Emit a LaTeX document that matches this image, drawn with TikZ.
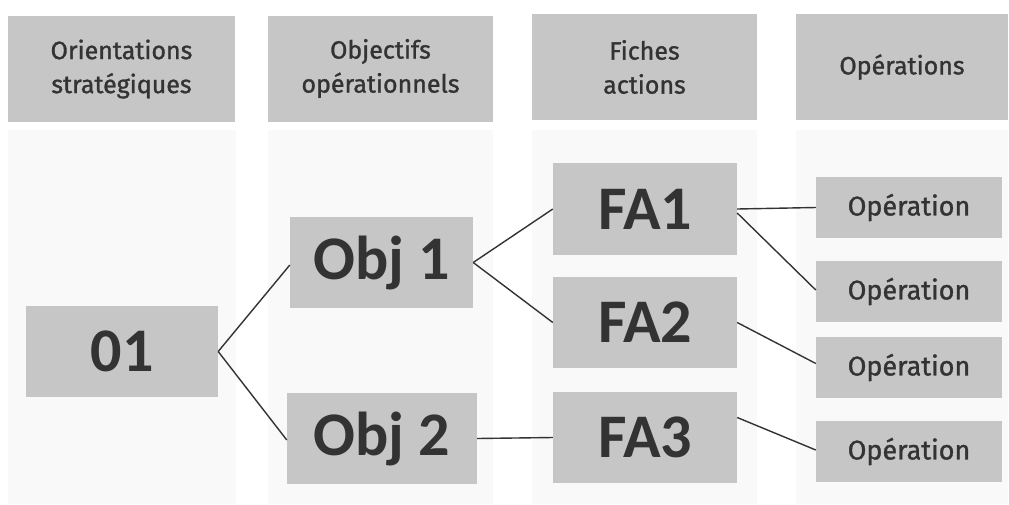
\documentclass[tikz,border=0pt]{standalone}
\usepackage{fontspec}
\setmainfont{Fira Sans}[UprightFeatures={FakeBold=1.2}]
\newfontfamily\boldfont{Carlito}
\definecolor{boxgray}{HTML}{C6C6C6}
\definecolor{panelgray}{HTML}{F9F9F9}
\definecolor{inkgray}{HTML}{333333}
\definecolor{linegray}{HTML}{333333}
\begin{document}
\begin{tikzpicture}[x=1pt,y=-1pt,
  header/.style={fill=boxgray,draw=none,text=inkgray,align=center,inner sep=0pt,
    font=\fontsize{25}{34}\selectfont,minimum height=106pt},
  bignode/.style={fill=boxgray,draw=none,text=inkgray,inner sep=0pt,
    font=\boldfont\bfseries\fontsize{62}{64}\selectfont,minimum height=91pt},
  opnode/.style={fill=boxgray,draw=none,text=inkgray,inner sep=0pt,
    font=\fontsize{27}{29}\selectfont,minimum width=186pt,minimum height=61pt},
  link/.style={draw=linegray,line width=1.4pt}]
\useasboundingbox (0,0) rectangle (1009,504);
\fill[white] (0,0) rectangle (1009,504);
% column panels
\fill[panelgray] (8,130) rectangle (236,504);
\fill[panelgray] (268,130) rectangle (493,504);
\fill[panelgray] (532,130) rectangle (757,504);
\fill[panelgray] (796,130) rectangle (1008,504);
% headers
\node[header,minimum width=227pt] (h1) at (121.5,69) {Orientations\\strat\'egiques};
\node[header,minimum width=225pt] (h2) at (380.5,68.5) {Objectifs\\op\'erationnels};
\node[header,minimum width=225pt] (h3) at (644.5,67) {Fiches\\actions};
\node[header,minimum width=212pt] (h4) at (902,67) {Op\'erations};
% main nodes
\node[bignode,minimum width=192pt] (o1) at (122,351.5) {01};
\node[bignode,minimum width=183pt] (obj1) at (381.5,262.5) {Obj 1};
\node[bignode,minimum width=190pt] (obj2) at (382,438.5) {Obj 2};
\node[bignode,minimum width=184pt,minimum height=92pt] (fa1) at (645,209) {FA1};
\node[bignode,minimum width=184pt] (fa2) at (645,322.5) {FA2};
\node[bignode,minimum width=184pt] (fa3) at (645,437.5) {FA3};
\node[opnode] (op1) at (909,207.5) {Op\'eration};
\node[opnode] (op2) at (909,291.5) {Op\'eration};
\node[opnode] (op3) at (909,367.5) {Op\'eration};
\node[opnode] (op4) at (909,451.5) {Op\'eration};
% connectors
\draw[link] (o1.east) -- ([yshift=-2.5pt]obj1.west);
\draw[link] (o1.east) -- ([yshift=-1.5pt]obj2.west);
\draw[link] (obj1.east) -- (fa1.west);
\draw[link] (obj1.east) -- (fa2.west);
\draw[link] (obj2.east) -- (fa3.west);
\draw[link] (fa1.east) -- (op1.west);
\draw[link] ([yshift=-4pt]fa1.east) -- ([yshift=1.5pt]op2.west);
\draw[link] (fa2.east) -- ([yshift=4pt]op3.west);
\draw[link] ([yshift=20pt]fa3.east) -- ([yshift=1.5pt]op4.west);
\end{tikzpicture}
\end{document}
